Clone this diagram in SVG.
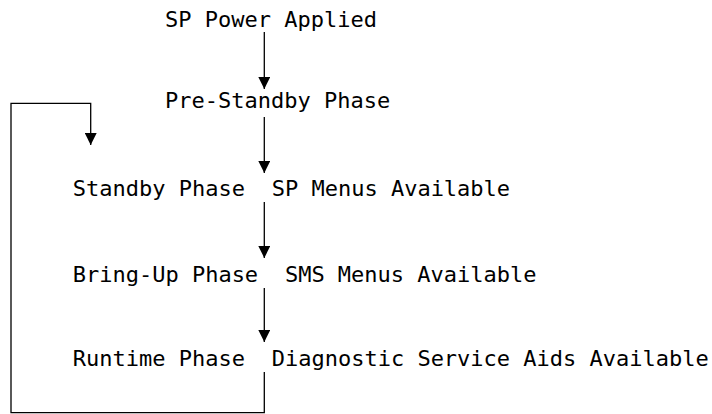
<svg xmlns="http://www.w3.org/2000/svg" width="712" height="414" viewBox="0 0 712 414">
<style>
text{font-family:"DejaVu Sans Mono","Liberation Mono",monospace;font-size:22px;fill:#000}
.ln{stroke:#000;stroke-width:1.3;fill:none}
</style>
<defs>
<marker id="ah" markerWidth="12" markerHeight="12" refX="12" refY="6" orient="auto" markerUnits="userSpaceOnUse">
<path d="M0,0 L12,6 L0,12 Z" fill="#000"/>
</marker>
</defs>
<rect width="712" height="414" fill="#fff"/>
<g id="n-power"><text x="165" y="27">SP Power Applied</text></g>
<g id="n-prestandby"><text x="165" y="108">Pre-Standby Phase</text></g>
<g id="n-standby"><text x="72.7" y="196">Standby Phase</text><text x="271.7" y="196">SP Menus Available</text></g>
<g id="n-bringup"><text x="72.7" y="281.5">Bring-Up Phase</text><text x="284.9" y="281.5">SMS Menus Available</text></g>
<g id="n-runtime"><text x="72.7" y="366">Runtime Phase</text><text x="271.7" y="366">Diagnostic Service Aids Available</text></g>
<g id="connectors">
<line class="ln" x1="264.3" y1="32" x2="264.3" y2="89" marker-end="url(#ah)"/>
<line class="ln" x1="264.3" y1="117" x2="264.3" y2="173" marker-end="url(#ah)"/>
<line class="ln" x1="264.3" y1="202" x2="264.3" y2="258" marker-end="url(#ah)"/>
<line class="ln" x1="264.3" y1="288" x2="264.3" y2="342" marker-end="url(#ah)"/>
<polyline class="ln" points="264.3,372 264.3,412.7 11,412.7 11,103.3 90.7,103.3 90.7,145" marker-end="url(#ah)"/>
</g>
</svg>
